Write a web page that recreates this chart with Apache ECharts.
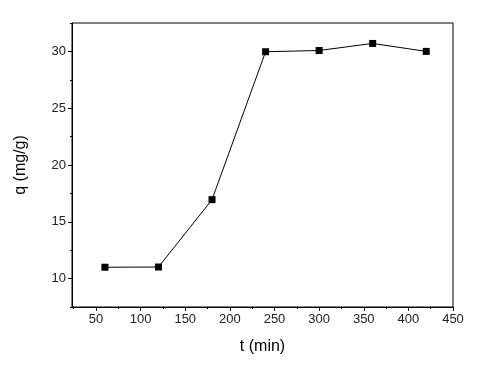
<!DOCTYPE html>
<html>
<head>
<meta charset="utf-8">
<script src="https://cdn.jsdelivr.net/npm/echarts@6/dist/echarts.min.js"></script>
<style>
html,body{margin:0;padding:0;background:#fff;}
#chart{width:490px;height:370px;}
</style>
</head>
<body>
<div id="chart"></div>
<script>
var tValues = [60, 120, 180, 240, 300, 360, 420];
var qValues = [11.0, 11.02, 16.95, 29.97, 30.08, 30.7, 30.0];
var xMajorTicks = [50, 100, 150, 200, 250, 300, 350, 400, 450];
var xMinorTicks = [25, 75, 125, 175, 225, 275, 325, 375, 425];
var yMajorTicks = [10, 15, 20, 25, 30];
var yMinorTicks = [7.5, 12.5, 17.5, 22.5, 27.5, 32.5];
var xTitle = 't (min)';
var yTitle = 'q (mg/g)';

var font = 'Liberation Sans, Arial, sans-serif';
var chart = echarts.init(document.getElementById('chart'), null, {renderer: 'canvas'});
var xMin = 23.1, xMax = 450, yMin = 7.5, yMax = 32.5;

chart.setOption({
  animation: false,
  backgroundColor: '#fff',
  grid: {left: 72, top: 23, right: 37, bottom: 63, show: true, borderColor: '#000', borderWidth: 1, containLabel: false},
  xAxis: [{
    type: 'value', min: xMin, max: xMax, position: 'bottom',
    name: xTitle, nameLocation: 'middle', nameGap: 32,
    nameTextStyle: {fontFamily: font, fontSize: 16, color: '#000'},
    axisLine: {show: true, onZero: false, lineStyle: {color: '#000', width: 1}},
    axisTick: {show: true, inside: false, length: 4, customValues: xMajorTicks, lineStyle: {color: '#000'}},
    axisLabel: {show: true, customValues: xMajorTicks, margin: 6, fontFamily: font, fontSize: 13, color: '#222'},
    splitLine: {show: false}
  }, {
    type: 'value', min: xMin, max: xMax, position: 'bottom',
    axisLine: {show: false, onZero: false},
    axisTick: {show: true, inside: false, length: 2, customValues: xMinorTicks, lineStyle: {color: '#000'}},
    axisLabel: {show: false},
    splitLine: {show: false}
  }],
  yAxis: [{
    type: 'value', min: yMin, max: yMax, position: 'left',
    name: yTitle, nameLocation: 'middle', nameGap: 43,
    nameTextStyle: {fontFamily: font, fontSize: 16, color: '#000'},
    axisLine: {show: true, onZero: false, lineStyle: {color: '#000', width: 1}},
    axisTick: {show: true, inside: false, length: 4, customValues: yMajorTicks, lineStyle: {color: '#000'}},
    axisLabel: {show: true, customValues: yMajorTicks, margin: 6, fontFamily: font, fontSize: 13, color: '#222'},
    splitLine: {show: false}
  }, {
    type: 'value', min: yMin, max: yMax, position: 'left',
    axisLine: {show: false, onZero: false},
    axisTick: {show: true, inside: false, length: 2, customValues: yMinorTicks, lineStyle: {color: '#000'}},
    axisLabel: {show: false},
    splitLine: {show: false}
  }],
  series: [{
    type: 'line',
    xAxisIndex: 0, yAxisIndex: 0,
    data: tValues.map(function (t, i) { return [t, qValues[i]]; }),
    symbol: 'rect', symbolSize: 7,
    itemStyle: {color: '#000'},
    lineStyle: {color: '#000', width: 1},
    silent: true
  }]
});
</script>
</body>
</html>
